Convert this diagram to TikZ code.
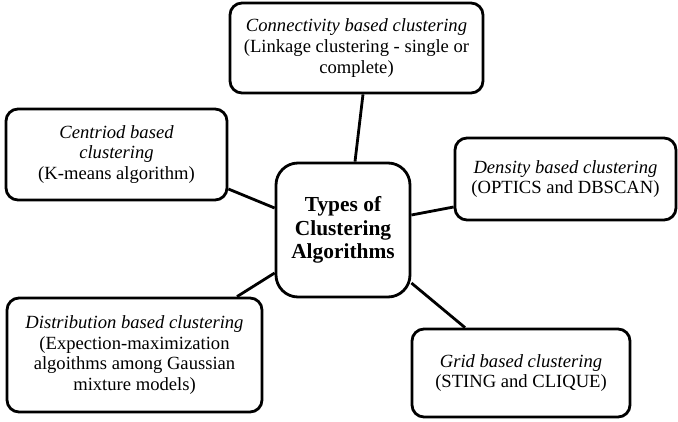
\documentclass[tikz,border=0pt]{standalone}
\usepackage{fontspec}
\setmainfont{Liberation Serif}
\begin{document}
\begin{tikzpicture}[x=1pt,y=-1pt,
  box/.style={draw,line width=2.8pt,rounded corners=12pt,align=center,inner sep=0pt,
    font=\fontsize{18.6}{20.6}\selectfont},
  hub/.style={draw,line width=2.8pt,rounded corners=22pt,align=center,inner sep=0pt,
    font=\fontsize{21.4}{23.5}\selectfont\bfseries},
  link/.style={line width=2.8pt}]
\useasboundingbox (0,0) rectangle (678,421);
\node[hub,minimum width=134pt,minimum height=134pt] (hub) at (343,230) {Types of\\Clustering\\Algorithms};
\node[box,minimum width=253pt,minimum height=90pt] (top) at (356.5,48) {\textit{Connectivity based clustering}\\(Linkage clustering - single or\\complete)};
\node[box,minimum width=221pt,minimum height=91pt] (cent) at (116.5,154.5) {\textit{Centriod based}\\\textit{clustering}\\(K-means algorithm)};
\node[box,minimum width=221pt,minimum height=82pt] (dens) at (565.5,179) {\textit{Density based clustering}\\(OPTICS and DBSCAN)};
\node[box,minimum width=255pt,minimum height=114pt] (dist) at (134.5,355) {\textit{Distribution based clustering}\\(Expection-maximization\\algoithms among Gaussian\\mixture models)};
\node[box,minimum width=218pt,minimum height=88pt] (grid) at (521,373) {\textit{Grid based clustering}\\(STING and CLIQUE)};
\draw[link] ([xshift=12pt]hub.north) -- ([xshift=6.5pt]top.south);
\draw[link] ([yshift=22pt]hub.west) -- ([yshift=-34.5pt]cent.east);
\draw[link] ([yshift=15pt]hub.east) -- ([yshift=-28pt]dens.west);
\draw[link] ([yshift=-43pt]hub.west) -- ([xshift=102.5pt]dist.north);
\draw[link] ([yshift=-53pt]hub.east) -- ([xshift=-56pt]grid.north);
\end{tikzpicture}
\end{document}
